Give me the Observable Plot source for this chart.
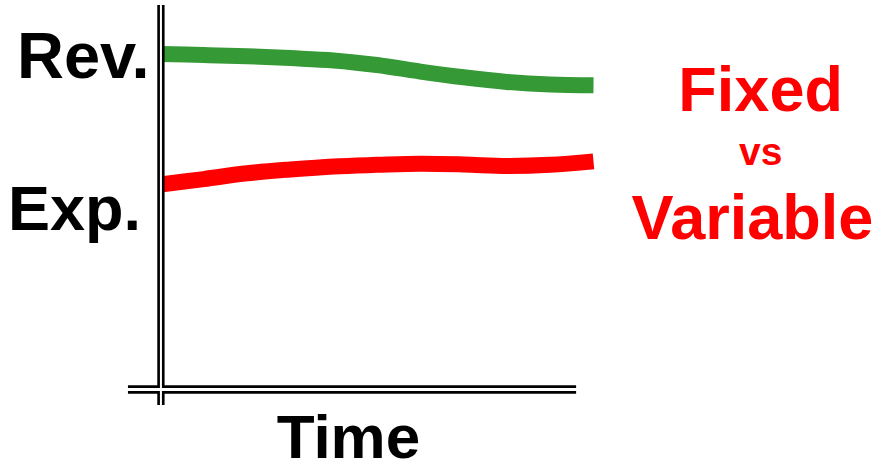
<!DOCTYPE html>
<html>
<head>
<meta charset="utf-8">
<script src="https://cdn.jsdelivr.net/npm/d3@7"></script>
<script src="https://cdn.jsdelivr.net/npm/@observablehq/plot@0.6"></script>
<style>
  html, body { margin: 0; padding: 0; background: #fff; }
</style>
</head>
<body>
<div id="chart"></div>
<script>
// Time steps (arbitrary units)
const time = [0, 1, 2, 3, 4, 5, 6, 7, 8, 9, 10];
// Revenue (green) and Expenses (red) levels
const revenue  = [87.4, 87.1, 86.8, 86.3, 85.7, 84.5, 82.8, 81.3, 80.1, 79.4, 79.2];
const expenses = [53.4, 54.8, 56.3, 57.3, 58.1, 58.5, 58.8, 58.6, 58.2, 58.5, 59.4];
// Y-axis labels and their levels
const yTicks = [86.5, 46.9];
const yLabels = ["Rev.", "Exp."];
// X-axis label
const xTicks = [4.34];
const xLabels = ["Time"];
// Side annotation
const note = ["Fixed", "vs", "Variable"];

const rev = time.map((t, i) => ({t, v: revenue[i]}));
const exp = time.map((t, i) => ({t, v: expenses[i]}));

const font = "'Liberation Sans', Arial, Helvetica, sans-serif";

const chart = Plot.plot({
  width: 882,
  height: 471,
  marginLeft: 160,
  marginRight: 289,
  marginTop: 5,
  marginBottom: 82,
  style: {fontFamily: font, background: "#fff", color: "#000"},
  x: {domain: [0, 10]},
  y: {domain: [0, 100], axis: null},
  marks: [
    Plot.line(rev, {x: "t", y: "v", stroke: "#359a35", strokeWidth: 16, curve: "catmull-rom", strokeLinecap: "butt", strokeLinejoin: "round"}),
    Plot.line(exp, {x: "t", y: "v", stroke: "#ff0000", strokeWidth: 16, curve: "catmull-rom", strokeLinecap: "butt", strokeLinejoin: "round"}),
    // double-line axes
    Plot.ruleY([0], {x1: -0.74, x2: 9.61, stroke: "#000", strokeWidth: 8.5}),
    Plot.ruleX([0.01], {y1: -4.17, y2: 100, stroke: "#000", strokeWidth: 7.3}),
    Plot.ruleY([0], {x1: -0.9, x2: 9.7, stroke: "#fff", strokeWidth: 3.2}),
    Plot.ruleX([0.01], {y1: -4.5, y2: 100.5, stroke: "#fff", strokeWidth: 2}),
    // y labels
    Plot.text([yLabels[0]], {x: 0, y: yTicks[0], text: d => d, dx: -11, textAnchor: "end", fill: "#000", fontSize: 65, fontWeight: "bold"}),
    Plot.text([yLabels[1]], {x: 0, y: yTicks[1], text: d => d, dx: -19.5, textAnchor: "end", fill: "#000", fontSize: 63, fontWeight: "bold"}),
    Plot.axisX({
      ticks: xTicks,
      tickFormat: d => xLabels[xTicks.indexOf(d)],
      tickSize: 0,
      tickPadding: 24,
      fontSize: 62,
      fontWeight: "bold",
      fill: "#000",
      label: null
    }),
    Plot.text([note[0]], {x: 13.86, y: 77.9, text: d => d, fill: "#ff0000", fontSize: 63, fontWeight: "bold", textAnchor: "middle"}),
    Plot.text([note[1]], {x: 13.86, y: 61.6, text: d => d, fill: "#ff0000", fontSize: 39, fontWeight: "bold", textAnchor: "middle"}),
    Plot.text([note[2]], {x: 13.67, y: 44.5, text: d => d, fill: "#ff0000", fontSize: 63, fontWeight: "bold", textAnchor: "middle"})
  ]
});
document.getElementById("chart").appendChild(chart);
</script>
</body>
</html>
